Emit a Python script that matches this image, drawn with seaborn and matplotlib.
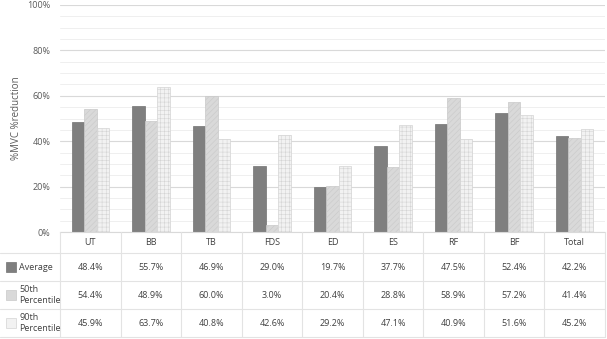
import matplotlib
matplotlib.use("Agg")
import matplotlib.pyplot as plt
from matplotlib.lines import Line2D
from matplotlib.patches import Rectangle
from matplotlib.transforms import blended_transform_factory
from matplotlib.ticker import MultipleLocator, FuncFormatter
import seaborn as sns
import pandas as pd

categories = ["UT", "BB", "TB", "FDS", "ED", "ES", "RF", "BF", "Total"]
series_names = ["Average", "50th Percentile", "90th Percentile"]
table_labels = ["Average", "50th\nPercentile", "90th\nPercentile"]
average = [48.4, 55.7, 46.9, 29.0, 19.7, 37.7, 47.5, 52.4, 42.2]
p50 = [54.4, 48.9, 60.0, 3.0, 20.4, 28.8, 58.9, 57.2, 41.4]
p90 = [45.9, 63.7, 40.8, 42.6, 29.2, 47.1, 40.9, 51.6, 45.2]
y_ticks = [0, 20, 40, 60, 80, 100]

colors = ["#7f7f7f", "#d9d9d9", "#f2f2f2"]
edges = ["#737373", "#c9c9c9", "#d4d4d4"]
hatches = [None, "//////", "++++"]

sns.set_theme(style="white")
plt.rcParams["font.family"] = ["Open Sans", "DejaVu Sans"]
plt.rcParams["hatch.linewidth"] = 0.4

rows = []
for name, vals in zip(series_names, [average, p50, p90]):
    for c, v in zip(categories, vals):
        rows.append({"cat": c, "val": v, "series": name})
df = pd.DataFrame(rows)

W, H = 607, 339
fig = plt.figure(figsize=(W / 100, H / 100), dpi=100)
ax_left, ax_right, ax_top, ax_bottom = 60, 605, 5, 232
ax = fig.add_axes([ax_left / W, 1 - ax_bottom / H, (ax_right - ax_left) / W, (ax_bottom - ax_top) / H])

sns.barplot(data=df, x="cat", y="val", hue="series", order=categories,
            hue_order=series_names, palette=colors, width=0.62, gap=0,
            legend=False, ax=ax, saturation=1)

n = len(categories)
for i, p in enumerate(ax.patches[: 3 * n]):
    s = i // n
    p.set_edgecolor(edges[s])
    p.set_linewidth(0.5)
    if hatches[s]:
        p.set_hatch(hatches[s])

ax.set_ylim(0, 100)
ax.set_xlim(-0.5, n - 0.5)
ax.yaxis.set_major_locator(MultipleLocator(20))
ax.yaxis.set_minor_locator(MultipleLocator(5))
ax.set_yticks(y_ticks)
ax.yaxis.set_major_formatter(FuncFormatter(lambda v, _: f"{v:.0f}%"))
ax.grid(axis="y", which="major", color="#d9d9d9", lw=0.8)
ax.grid(axis="y", which="minor", color="#ececec", lw=0.6)
ax.set_axisbelow(True)
ax.tick_params(axis="y", which="both", length=0, labelsize=6.5, labelcolor="#595959", pad=7)
ax.tick_params(axis="x", length=0, labelbottom=False)
ax.set_xlabel("")
ax.set_ylabel("%MVC %reduction", fontsize=7, color="#595959")
ax.yaxis.set_label_coords(-(60 - 22) / 545, 0.5)
for sp in ["top", "right", "left"]:
    ax.spines[sp].set_visible(False)
ax.spines["bottom"].set_color("#d9d9d9")
ax.spines["bottom"].set_linewidth(0.8)

# data table
tr = blended_transform_factory(ax.transData, fig.transFigure)
line_c = "#e3e3e3"
row_bounds = [232, 253, 281, 309, 337]

def fy(py):
    return 1 - py / H

for yb in row_bounds[1:]:
    fig.add_artist(Line2D([0, ax_right / W], [fy(yb), fy(yb)], color=line_c, lw=0.8,
                          transform=fig.transFigure))
for i in range(n + 1):
    x = i - 0.5
    fig.add_artist(Line2D([x, x], [fy(row_bounds[0]), fy(row_bounds[-1])], color=line_c,
                          lw=0.8, transform=tr))

txt_c = "#404040"
for i, c in enumerate(categories):
    fig.text(i, fy((row_bounds[0] + row_bounds[1]) / 2), c, transform=tr,
             ha="center", va="center", fontsize=6.5, color=txt_c)
for s, vals in enumerate([average, p50, p90]):
    yc = fy((row_bounds[s + 1] + row_bounds[s + 2]) / 2)
    for i, v in enumerate(vals):
        fig.text(i, yc, f"{v:.1f}%", transform=tr, ha="center", va="center",
                 fontsize=6.5, color=txt_c)
    fig.add_artist(Rectangle((6 / W, yc - 5 / H), 10 / W, 10 / H, facecolor=colors[s],
                             edgecolor=edges[s], lw=0.5, transform=fig.transFigure))
    fig.text(19 / W, yc, table_labels[s], ha="left", va="center", fontsize=6.5,
             color=txt_c, linespacing=1.3)

fig.savefig("out.png", dpi=100)
